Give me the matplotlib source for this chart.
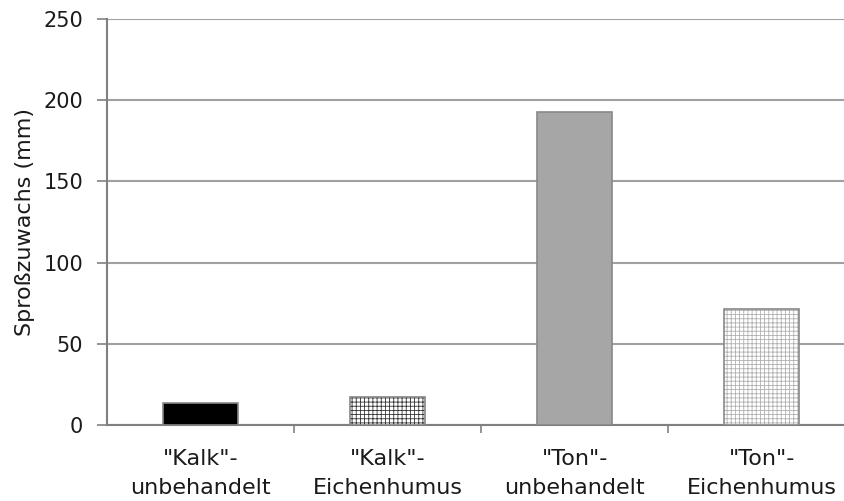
import matplotlib
matplotlib.use("Agg")
import matplotlib.pyplot as plt
import numpy as np

# -- Data ---------------------------------------------------------------------
categories = ['"Kalk"-\nunbehandelt', '"Kalk"-\nEichenhumus',
              '"Ton"-\nunbehandelt', '"Ton"-\nEichenhumus']
values = [13.5, 17.5, 193, 71.5]
yticks = [0, 50, 100, 150, 200, 250]

plt.rcParams["font.family"] = ["DejaVu Sans"]
plt.rcParams["hatch.linewidth"] = 0.6

fig = plt.figure(figsize=(8.45, 5.01), dpi=100)
ax = fig.add_axes([0.1266, 0.1517, 0.8854, 0.8103])

x = np.arange(len(categories))
faces = ["black", "white", "#a6a6a6", "white"]
hatches = [None, "++++", None, "++++"]
hatch_cols = ["black", "#333333", "#a6a6a6", "#b0b0b0"]
for xi, v, fc, h, hc in zip(x, values, faces, hatches, hatch_cols):
    ax.bar(xi, v, width=0.4, color=fc, hatch=h, edgecolor=hc, linewidth=0, zorder=3)
    ax.bar(xi, v, width=0.4, fill=False, edgecolor="#888888", linewidth=1.2, zorder=4)

ax.set_xlim(-0.5, 3.5)
ax.set_ylim(0, 250)
ax.set_yticks(yticks)
ax.yaxis.grid(True, color="#a0a0a0", linewidth=1.5, zorder=0)
ax.set_axisbelow(True)

ax.set_xticks(x)
ax.set_xticklabels(categories, fontsize=16, color="#1a1a1a", linespacing=1.6)
ax.set_xticks([0.5, 1.5, 2.5], minor=True)
ax.tick_params(axis="x", which="major", length=0, pad=17)
ax.tick_params(axis="x", which="minor", length=6, width=1.2, color="#808080")
ax.tick_params(axis="y", length=7, width=1.2, color="#808080", labelsize=15,
               labelcolor="#1a1a1a", pad=10)

for s in ["top", "right"]:
    ax.spines[s].set_visible(False)
for s in ["left", "bottom"]:
    ax.spines[s].set_color("#808080")
    ax.spines[s].set_linewidth(1.5)

ax.set_ylabel("Sproßzuwachs (mm)", fontsize=16, color="#1a1a1a", labelpad=6)

fig.savefig("out.png", dpi=100)
